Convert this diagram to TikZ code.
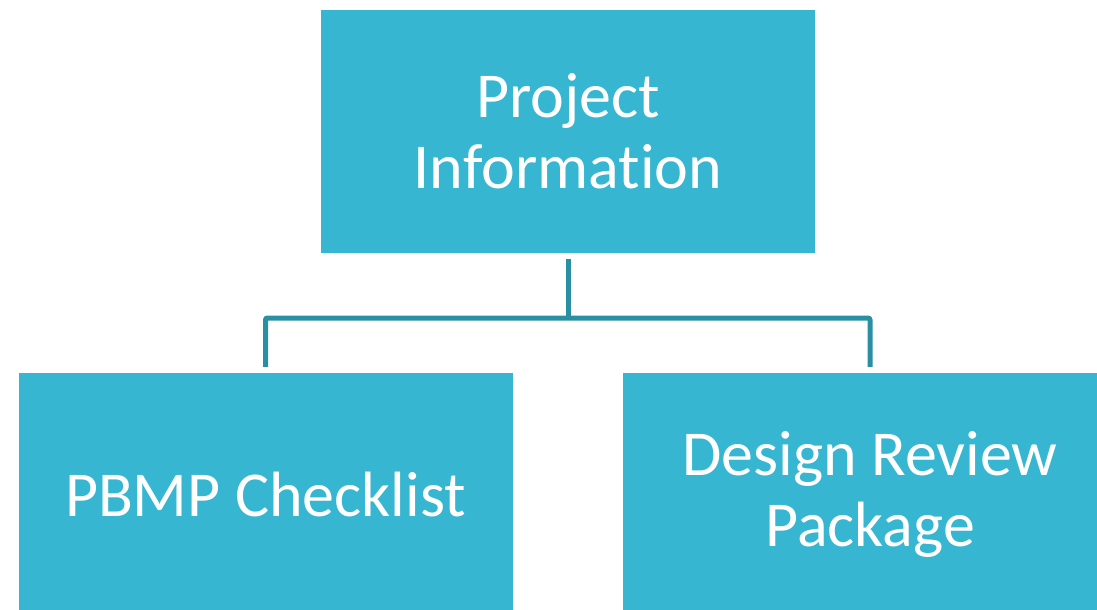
\documentclass[tikz,border=0pt]{standalone}
\usepackage{fontspec}
\setmainfont{Carlito}[Ligatures=NoCommon]
\usepackage{tikz}
\usetikzlibrary{positioning}

\definecolor{boxfill}{HTML}{36B6D0}
\definecolor{linkcol}{HTML}{2990A3}

\tikzset{
  orgbox/.style={fill=boxfill, text=white, minimum width=494pt, minimum height=243pt,
                 align=center, inner sep=0pt, font=\fontsize{64}{71}\selectfont},
  link/.style={linkcol, line width=5pt, rounded corners=2pt}
}

\begin{document}
\begin{tikzpicture}[x=1pt,y=1pt]
\clip (0,0) rectangle (1097,-610);
\useasboundingbox (0,0) rectangle (1097,-610);

\node[orgbox] (info) at (568,-131.5) {Project\\Information};
\node[orgbox] (pbmp) at (265.5,-494.5) {PBMP Checklist};
\node[orgbox] (review) at (870,-494.5) {Design Review\\Package};

\coordinate (bus) at (568,-318);

\draw[link] ([yshift=-6pt]info.south) -- (bus);
\draw[link] ([yshift=6pt]pbmp.north) |- (bus) -| ([yshift=6pt]review.north);
\end{tikzpicture}
\end{document}
